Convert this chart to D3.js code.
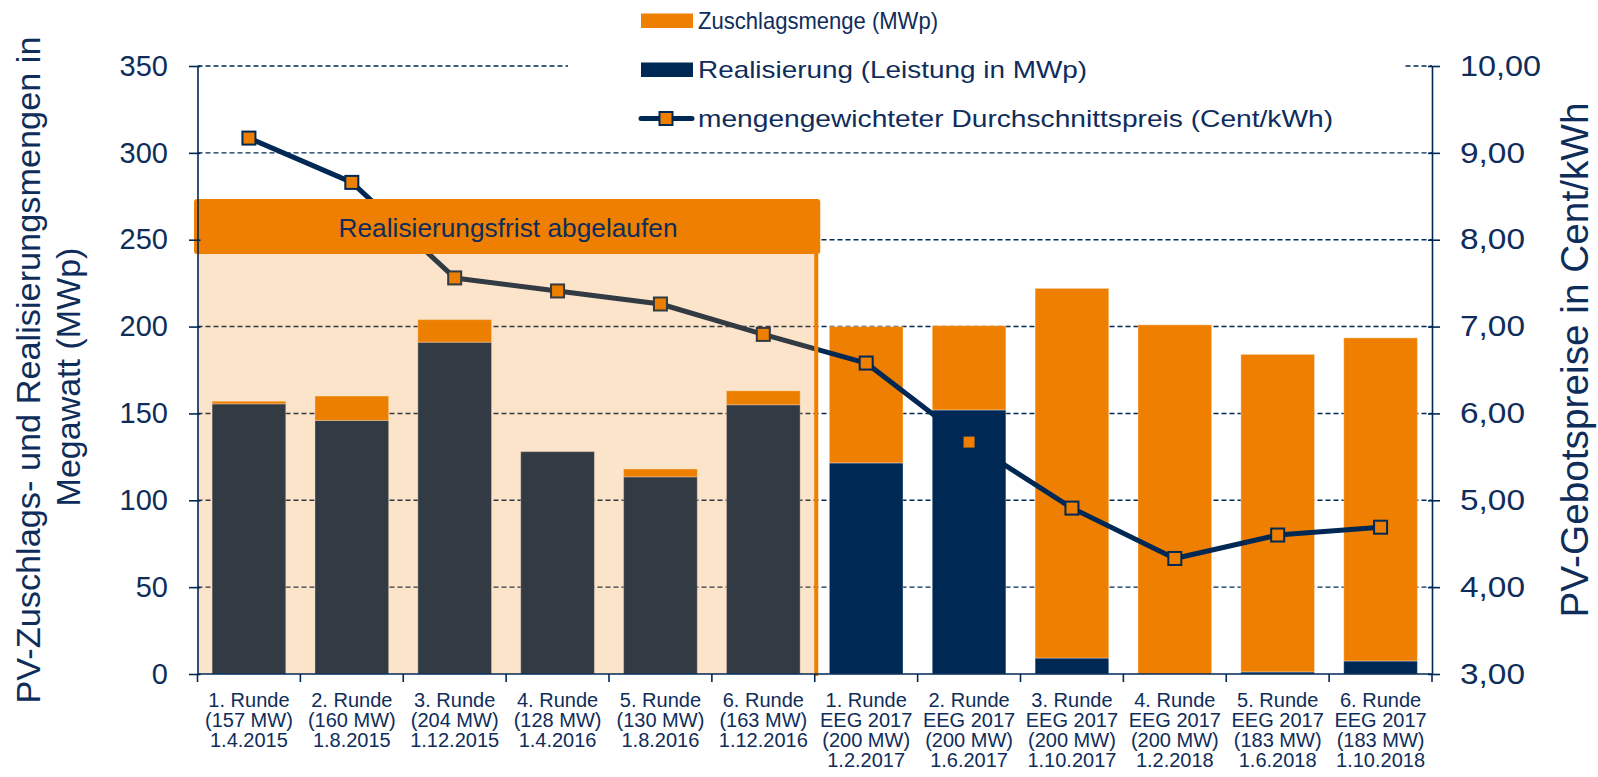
<!DOCTYPE html>
<html>
<head>
<meta charset="utf-8">
<script src="https://cdn.jsdelivr.net/npm/d3@7"></script>
<style>
  body { margin: 0; background: #fff; }
  svg text { font-family: "Liberation Sans", Arial, sans-serif; fill: #0f2d5a; }
</style>
</head>
<body>
<svg id="chart" width="1598" height="777"></svg>
<script>
// category tick labels, one entry per round (lines of the label)
var categories = [
  ["1. Runde", "(157 MW)", "1.4.2015"],
  ["2. Runde", "(160 MW)", "1.8.2015"],
  ["3. Runde", "(204 MW)", "1.12.2015"],
  ["4. Runde", "(128 MW)", "1.4.2016"],
  ["5. Runde", "(130 MW)", "1.8.2016"],
  ["6. Runde", "(163 MW)", "1.12.2016"],
  ["1. Runde", "EEG 2017", "(200 MW)", "1.2.2017"],
  ["2. Runde", "EEG 2017", "(200 MW)", "1.6.2017"],
  ["3. Runde", "EEG 2017", "(200 MW)", "1.10.2017"],
  ["4. Runde", "EEG 2017", "(200 MW)", "1.2.2018"],
  ["5. Runde", "EEG 2017", "(183 MW)", "1.6.2018"],
  ["6. Runde", "EEG 2017", "(183 MW)", "1.10.2018"]
];

// MWp awarded (total bar height) and MWp realised (navy part)
var zuschlag     = [157, 160, 204, 128, 118, 163, 200, 200.5, 222, 201, 184, 193.5];
var realisierung = [155.5, 146, 191, 128, 113.5, 155, 121.5, 152, 9.2, 0, 1.2, 7.5];
// weighted average price in ct/kWh
var preis        = [9.17, 8.66, 7.56, 7.41, 7.26, 6.91, 6.58, 5.67, 4.91, 4.33, 4.60, 4.69];

var leftTicks  = [0, 50, 100, 150, 200, 250, 300, 350];
var rightTicks = [3, 4, 5, 6, 7, 8, 9, 10];

var legendLabels = [
  "Zuschlagsmenge (MWp)",
  "Realisierung (Leistung in MWp)",
  "mengengewichteter Durchschnittspreis (Cent/kWh)"
];
var overlayLabel = "Realisierungsfrist abgelaufen";
var expiredRounds = 6;   // first six rounds are past the deadline

//COLORS
var orange = "#EE7F00";
var navy = "#002855";
var textColor = "#0f2d5a";

var svg = d3.select("#chart");

var plotLeft = 197.5, plotRight = 1432, plotTop = 66, plotBottom = 674;

var x = d3.scaleBand()
  .domain(d3.range(categories.length))
  .range([plotLeft, plotRight])
  .paddingInner(0.284)
  .paddingOuter(0.142);

// boundaries between categories (for the ticks)
var edge = d3.scaleLinear().domain([0, categories.length]).range([plotLeft, plotRight]);

var y = d3.scaleLinear().domain([0, 350]).range([plotBottom, plotTop]);
var y2 = d3.scaleLinear().domain([3, 10]).range([plotBottom, plotTop]);

//gridlines
svg.append("g").selectAll("line")
  .data(leftTicks.filter(function (d) { return d > 0; }))
  .enter().append("line")
  .attr("x1", plotLeft).attr("x2", plotRight)
  .attr("y1", function (d) { return y(d); })
  .attr("y2", function (d) { return y(d); })
  .attr("stroke", navy)
  .attr("stroke-width", 1.4)
  .attr("stroke-dasharray", "5,3");

//bars
var bars = svg.append("g");
var rows = d3.range(categories.length);

bars.selectAll(".real")
  .data(rows)
  .enter().append("rect")
  .attr("class", "real")
  .attr("x", function (i) { return x(i); })
  .attr("width", x.bandwidth())
  .attr("y", function (i) { return y(realisierung[i]); })
  .attr("height", function (i) { return y(0) - y(realisierung[i]); })
  .attr("fill", navy)
  .attr("stroke", "rgba(255,255,255,0.35)")
  .attr("stroke-width", 1);

bars.selectAll(".award")
  .data(rows)
  .enter().append("rect")
  .attr("class", "award")
  .attr("x", function (i) { return x(i); })
  .attr("width", x.bandwidth())
  .attr("y", function (i) { return y(zuschlag[i]); })
  .attr("height", function (i) { return y(realisierung[i]) - y(zuschlag[i]); })
  .attr("fill", orange)
  .attr("stroke", "rgba(255,255,255,0.35)")
  .attr("stroke-width", 1);

//price line
var cx = function (i) { return x(i) + x.bandwidth() / 2; };
var line = d3.line()
  .x(function (d, i) { return cx(i); })
  .y(function (d) { return y2(d); });

svg.append("path")
  .datum(preis)
  .attr("d", line)
  .attr("fill", "none")
  .attr("stroke", navy)
  .attr("stroke-width", 5)
  .attr("stroke-linejoin", "round");

svg.append("g").selectAll("rect")
  .data(preis)
  .enter().append("rect")
  .attr("x", function (d, i) { return cx(i) - 6.5; })
  .attr("y", function (d) { return y2(d) - 6.5; })
  .attr("width", 13).attr("height", 13)
  .attr("fill", orange)
  .attr("stroke", navy)
  .attr("stroke-width", 2);

//expired overlay (translucent orange wash over the first rounds)
var splitX = edge(expiredRounds) + 1.5;
svg.append("rect")
  .attr("x", plotLeft)
  .attr("y", 199)
  .attr("width", splitX - plotLeft)
  .attr("height", plotBottom - 199)
  .attr("fill", orange)
  .attr("opacity", 0.21);

svg.append("line")
  .attr("x1", splitX).attr("x2", splitX)
  .attr("y1", 240).attr("y2", plotBottom + 2)
  .attr("stroke", orange)
  .attr("stroke-width", 4);

svg.append("rect")
  .attr("x", plotLeft - 3.5)
  .attr("y", 199)
  .attr("width", splitX + 4 - (plotLeft - 3.5))
  .attr("height", 55)
  .attr("rx", 3)
  .attr("fill", orange);

svg.append("text")
  .attr("x", 508)
  .attr("y", 237)
  .attr("text-anchor", "middle")
  .attr("font-size", 26)
  .attr("textLength", 339)
  .attr("lengthAdjust", "spacingAndGlyphs")
  .text(overlayLabel);

//axes
var yAxis = d3.axisLeft(y).tickValues(leftTicks).tickSize(8.5).tickSizeOuter(0).tickPadding(21);
var gy = svg.append("g")
  .attr("transform", "translate(" + plotLeft + ",0)")
  .call(yAxis);
gy.selectAll("text").attr("font-size", 29).attr("fill", textColor);

var y2Axis = d3.axisRight(y2).tickValues(rightTicks).tickSize(8).tickSizeOuter(0).tickPadding(20)
  .tickFormat(function (d) { return d.toFixed(2).replace(".", ","); });
var gy2 = svg.append("g")
  .attr("transform", "translate(" + plotRight + ",0)")
  .call(y2Axis);
gy2.selectAll("text")
  .attr("font-size", 29)
  .attr("fill", textColor)
  .attr("textLength", function (d) { return d >= 10 ? 81 : 65; })
  .attr("lengthAdjust", "spacingAndGlyphs");

[gy, gy2].forEach(function (g) {
  g.select(".domain").attr("stroke", navy).attr("stroke-width", 1.6);
  g.selectAll(".tick line").attr("stroke", navy).attr("stroke-width", 1.6);
});

// inner half of the y ticks (they cross the axis line)
gy.selectAll(".tick").append("line").attr("x2", 3).attr("stroke", navy).attr("stroke-width", 1.6);
gy2.selectAll(".tick").append("line").attr("x2", -4).attr("stroke", navy).attr("stroke-width", 1.6);

var gx = svg.append("g");
gx.append("line")
  .attr("x1", plotLeft).attr("x2", plotRight)
  .attr("y1", plotBottom).attr("y2", plotBottom)
  .attr("stroke", navy).attr("stroke-width", 1.6);
gx.selectAll(".edge")
  .data(d3.range(categories.length + 1))
  .enter().append("line")
  .attr("class", "edge")
  .attr("x1", function (d) { return edge(d); })
  .attr("x2", function (d) { return edge(d); })
  .attr("y1", plotBottom).attr("y2", plotBottom + 8)
  .attr("stroke", navy).attr("stroke-width", 1.6);

gx.selectAll(".cat")
  .data(categories)
  .enter().append("text")
  .attr("class", "cat")
  .attr("text-anchor", "middle")
  .attr("font-size", 20)
  .each(function (lines, i) {
    var t = d3.select(this);
    lines.forEach(function (s, j) {
      t.append("tspan")
        .attr("x", cx(i))
        .attr("y", 707 + j * 20)
        .text(s);
    });
  });

//axis titles
svg.append("text")
  .attr("transform", "translate(40,370) rotate(-90)")
  .attr("text-anchor", "middle")
  .attr("font-size", 34)
  .attr("textLength", 667)
  .attr("lengthAdjust", "spacingAndGlyphs")
  .text("PV-Zuschlags- und Realisierungsmengen in");

svg.append("text")
  .attr("transform", "translate(80,377) rotate(-90)")
  .attr("text-anchor", "middle")
  .attr("font-size", 34)
  .text("Megawatt (MWp)");

svg.append("text")
  .attr("transform", "translate(1588,360) rotate(-90)")
  .attr("text-anchor", "middle")
  .attr("font-size", 38)
  .attr("textLength", 515)
  .attr("lengthAdjust", "spacingAndGlyphs")
  .text("PV-Gebotspreise in Cent/kWh");

//legend, white box on top of the grid
var legend = svg.append("g");
legend.append("rect")
  .attr("x", 568).attr("y", 0)
  .attr("width", 836).attr("height", 140)
  .attr("fill", "#fff");

legend.append("rect")
  .attr("x", 641).attr("y", 13.5).attr("width", 52).attr("height", 14.5)
  .attr("fill", orange);
legend.append("rect")
  .attr("x", 641).attr("y", 62.5).attr("width", 52).attr("height", 14.5)
  .attr("fill", navy);
legend.append("line")
  .attr("x1", 641).attr("x2", 692)
  .attr("y1", 118.5).attr("y2", 118.5)
  .attr("stroke", navy).attr("stroke-width", 5)
  .attr("stroke-linecap", "round");
legend.append("rect")
  .attr("x", 659.5).attr("y", 112).attr("width", 13).attr("height", 13)
  .attr("fill", orange).attr("stroke", navy).attr("stroke-width", 2);

var legendWidths = [240, 389, 635];
legend.selectAll(".lbl")
  .data(legendLabels)
  .enter().append("text")
  .attr("class", "lbl")
  .attr("x", 698)
  .attr("y", function (d, i) { return 28.5 + i * 49; })
  .attr("font-size", 24)
  .attr("textLength", function (d, i) { return legendWidths[i]; })
  .attr("lengthAdjust", "spacingAndGlyphs")
  .text(function (d) { return d; });
</script>
</body>
</html>
